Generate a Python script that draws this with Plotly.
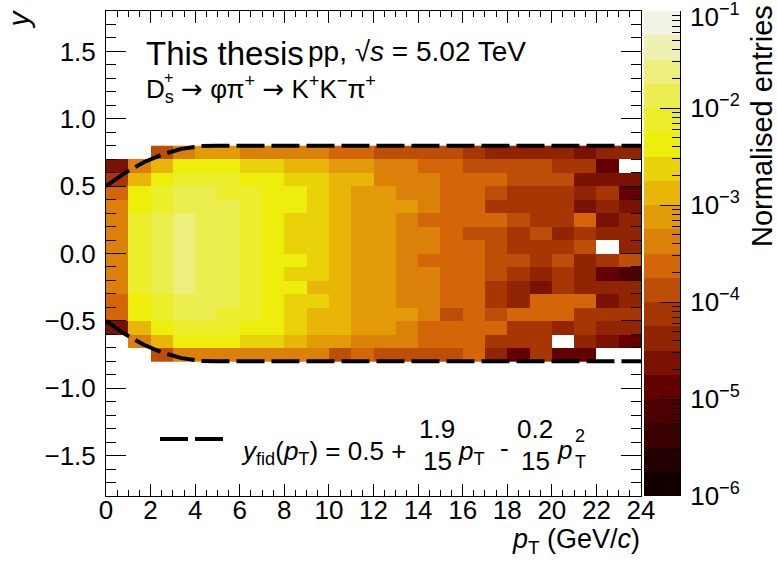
import numpy as np
import plotly.graph_objects as go

# ---------------- data ----------------
pt_edges = list(range(0, 25))  # GeV/c, 1 GeV bins
y_edges = [-0.8, -0.7, -0.6, -0.5, -0.4, -0.3, -0.2, -0.1, 0.0,
           0.1, 0.2, 0.3, 0.4, 0.5, 0.6, 0.7, 0.8]
N = None
# normalised entries per (y bin, pT bin); rows listed from top (y=+0.75) to bottom (y=-0.75)
row_p075 = [N, N, 1.3e-4, 4e-4, 8e-4, 8e-4, 4e-4, 4e-4, 4e-4, 4e-4, 2.5e-4, 2.5e-4, 1.3e-4, 1.3e-4, 1.3e-4, 1.3e-4, 8e-5, 4e-5, 4e-5, 4e-5, 4e-5, 2.5e-5, 4e-5, 4e-5]
row_p065 = [2.5e-5, 4e-4, 1.3e-3, 4e-3, 4e-3, 4e-3, 2.5e-3, 2.5e-3, 1.3e-3, 1.3e-3, 8e-4, 8e-4, 4e-4, 4e-4, 2.5e-4, 2.5e-4, 1.3e-4, 1.3e-4, 1.3e-4, 1.3e-4, 8e-5, 8e-5, 1.3e-5, N]
row_p055 = [8e-5, 1.3e-3, 4e-3, 8e-3, 8e-3, 8e-3, 4e-3, 4e-3, 2.5e-3, 2.5e-3, 1.3e-3, 1.3e-3, 4e-4, 4e-4, 4e-4, 2.5e-4, 2.5e-4, 2.5e-4, 1.3e-4, 1.3e-4, 1.3e-4, 2.5e-5, 2.5e-5, 2.5e-5]
row_p045 = [2.5e-4, 4e-3, 8e-3, 1.3e-2, 1.3e-2, 8e-3, 8e-3, 4e-3, 4e-3, 2.5e-3, 1.3e-3, 8e-4, 8e-4, 4e-4, 4e-4, 2.5e-4, 2.5e-4, 1.3e-4, 8e-5, 8e-5, 8e-5, 4e-5, 8e-5, 1.3e-5]
row_p035 = [4e-4, 4e-3, 8e-3, 1.3e-2, 1.3e-2, 1.3e-2, 8e-3, 4e-3, 4e-3, 2.5e-3, 1.3e-3, 8e-4, 8e-4, 8e-4, 4e-4, 2.5e-4, 2.5e-4, 8e-5, 8e-5, 8e-5, 8e-5, 2.5e-5, 4e-5, 2.5e-5]
row_p025 = [4e-4, 8e-3, 1.3e-2, 2.5e-2, 1.3e-2, 1.3e-2, 8e-3, 4e-3, 2.5e-3, 2.5e-3, 1.3e-3, 8e-4, 8e-4, 4e-4, 2.5e-4, 2.5e-4, 2.5e-4, 2.5e-4, 1.3e-4, 8e-5, 8e-5, 2.5e-4, 2.5e-5, 4e-5]
row_p015 = [4e-4, 8e-3, 1.3e-2, 2.5e-2, 1.3e-2, 1.3e-2, 8e-3, 4e-3, 2.5e-3, 2.5e-3, 1.3e-3, 8e-4, 8e-4, 4e-4, 4e-4, 2.5e-4, 1.3e-4, 1.3e-4, 8e-5, 1.3e-4, 4e-5, 8e-5, 4e-5, 4e-5]
row_p005 = [4e-4, 8e-3, 1.3e-2, 2.5e-2, 1.3e-2, 1.3e-2, 8e-3, 4e-3, 2.5e-3, 2.5e-3, 1.3e-3, 8e-4, 8e-4, 4e-4, 4e-4, 2.5e-4, 2.5e-4, 1.3e-4, 8e-5, 8e-5, 8e-5, 1.3e-4, N, 4e-5]
row_m005 = [4e-4, 8e-3, 1.3e-2, 2.5e-2, 1.3e-2, 1.3e-2, 8e-3, 4e-3, 4e-3, 2.5e-3, 1.3e-3, 8e-4, 8e-4, 4e-4, 2.5e-4, 2.5e-4, 2.5e-4, 1.3e-4, 1.3e-4, 8e-5, 1.3e-4, 4e-5, 8e-5, 1.3e-4]
row_m015 = [4e-4, 8e-3, 1.3e-2, 2.5e-2, 1.3e-2, 1.3e-2, 8e-3, 4e-3, 2.5e-3, 2.5e-3, 1.3e-3, 8e-4, 8e-4, 4e-4, 4e-4, 2.5e-4, 2.5e-4, 1.3e-4, 8e-5, 4e-5, 8e-5, 4e-5, 1.3e-5, 8e-6]
row_m025 = [4e-4, 8e-3, 1.3e-2, 2.5e-2, 1.3e-2, 1.3e-2, 8e-3, 4e-3, 4e-3, 1.3e-3, 1.3e-3, 8e-4, 8e-4, 4e-4, 4e-4, 2.5e-4, 2.5e-4, 8e-5, 4e-5, 2.5e-5, 8e-5, 4e-5, 4e-5, 4e-5]
row_m035 = [2.5e-4, 4e-3, 8e-3, 1.3e-2, 1.3e-2, 1.3e-2, 8e-3, 4e-3, 2.5e-3, 2.5e-3, 1.3e-3, 8e-4, 8e-4, 4e-4, 4e-4, 2.5e-4, 2.5e-4, 8e-5, 4e-5, 2.5e-4, 2.5e-4, 2.5e-4, 2.5e-5, 4e-5]
row_m045 = [2.5e-4, 4e-3, 8e-3, 1.3e-2, 1.3e-2, 8e-3, 8e-3, 4e-3, 2.5e-3, 1.3e-3, 1.3e-3, 8e-4, 8e-4, 8e-4, 4e-4, 1.3e-4, 2.5e-4, 1.3e-4, 2.5e-4, 2.5e-4, 2.5e-4, 8e-5, 8e-5, 8e-5]
row_m055 = [2.5e-5, 1.3e-3, 4e-3, 8e-3, 8e-3, 8e-3, 4e-3, 4e-3, 2.5e-3, 1.3e-3, 1.3e-3, 8e-4, 8e-4, 4e-4, 2.5e-4, 2.5e-4, 2.5e-4, 2.5e-4, 8e-5, 8e-5, 4e-5, 8e-5, 4e-5, 4e-5]
row_m065 = [N, 4e-4, 1.3e-3, 4e-3, 4e-3, 4e-3, 2.5e-3, 2.5e-3, 1.3e-3, 8e-4, 8e-4, 4e-4, 4e-4, 4e-4, 2.5e-4, 2.5e-4, 2.5e-4, 8e-5, 8e-5, 8e-5, N, 4e-5, 2.5e-5, 1.3e-5]
row_m075 = [N, N, 1.3e-4, 4e-4, 4e-4, 4e-4, 4e-4, 4e-4, 4e-4, 4e-4, 1.3e-4, 2.5e-4, 1.3e-4, 1.3e-4, 1.3e-4, 1.3e-4, 2.5e-4, 4e-5, 1.3e-5, 8e-5, 1.3e-5, 1.3e-5, N, N]

rows_top_to_bottom = [row_p075, row_p065, row_p055, row_p045, row_p035, row_p025, row_p015, row_p005,
                      row_m005, row_m015, row_m025, row_m035, row_m045, row_m055, row_m065, row_m075]

# fiducial acceptance curve shown in the legend: y_fid = 0.5 + 1.9/15 pT - 0.2/15 pT^2 (pT<5), 0.8 above
fid_a, fid_b, fid_c, fid_pt_max, fid_y_max = 0.5, 1.9 / 15, 0.2 / 15, 5.0, 0.8

z_min_log, z_max_log, n_levels = -6, -1, 20
cbar_ticks = [-6, -5, -4, -3, -2, -1]

# ---------------- palette (ROOT kDarkBodyRadiator, 20 contours) ----------------
st = np.linspace(0, 1, 9)
pr = [0, 45, 99, 156, 212, 230, 237, 234, 242]
pg = [0, 0, 0, 45, 101, 168, 238, 238, 243]
pb = [0, 1, 1, 3, 9, 8, 11, 95, 230]
band_cols = []
for k in range(n_levels):
    idx = int((k + 0.99) * 255 / n_levels)
    f = min(idx, 254) / 254
    band_cols.append("rgb(%d,%d,%d)" % (round(np.interp(f, st, pr)), round(np.interp(f, st, pg)),
                                        round(np.interp(f, st, pb))))
cscale = []
for k, c in enumerate(band_cols):
    cscale.append([k / n_levels, c])
    cscale.append([(k + 1) / n_levels, c])

rows_bottom_to_top = rows_top_to_bottom[::-1]
logz = [[np.nan if v is None else np.log10(v) for v in r] for r in rows_bottom_to_top]

# ---------------- geometry ----------------
W, H = 777, 565
ML, MR, MT, MB = 106, 97, 11, 69
PW = W - ML - MR
PH = H - MT - MB
def px(x):
    return (x - ML) / PW
def py(y):
    return (H - MB - y) / PH

FONT = "Liberation Sans, Arial, Helvetica, sans-serif"
ARROW = '<span style="font-family:DejaVu Sans">\u2192</span>'

fig = go.Figure()
fig.add_trace(go.Heatmap(x=pt_edges, y=y_edges, z=logz, zmin=z_min_log, zmax=z_max_log,
                         colorscale=cscale, showscale=False, hoverinfo="skip",
                         xaxis="x", yaxis="y"))

# colour scale bar drawn as its own heatmap
band_edges = np.linspace(z_min_log, z_max_log, n_levels + 1)
band_mid = (band_edges[:-1] + band_edges[1:]) / 2
fig.add_trace(go.Heatmap(x=[0, 1], y=band_edges, z=[[v] for v in band_mid], zmin=z_min_log,
                         zmax=z_max_log, colorscale=cscale, showscale=False, hoverinfo="skip",
                         xaxis="x2", yaxis="y2"))

# fiducial curve
pt = np.linspace(0, 24, 481)
yf = np.where(pt < fid_pt_max, fid_a + fid_b * pt - fid_c * pt ** 2, fid_y_max)
for sgn in (1, -1):
    fig.add_trace(go.Scatter(x=pt, y=sgn * yf, mode="lines",
                             line=dict(color="black", width=4, dash="28px,7px"),
                             hoverinfo="skip", showlegend=False, xaxis="x", yaxis="y"))

TICKFONT = dict(family=FONT, size=26, color="black")
xdom_end = 535 / PW
ax_common = dict(showline=True, linecolor="black", linewidth=1, showgrid=False, zeroline=False,
                 ticks="inside", tickcolor="black", tickfont=TICKFONT)
fig.update_layout(
    width=W, height=H, margin=dict(l=ML, r=MR, t=MT, b=MB),
    paper_bgcolor="white", plot_bgcolor="white", showlegend=False,
    xaxis=dict(domain=[0, xdom_end], range=[0, 24], dtick=2, tick0=0, ticklen=12, mirror="ticks",
               minor=dict(dtick=0.5, ticklen=6, ticks="inside", tickcolor="black"),
               ticklabelstandoff=-9, **ax_common),
    yaxis=dict(range=[-1.8, 1.8], dtick=0.5, tick0=0, ticklen=20, tickformat=".1f", mirror="ticks",
               minor=dict(dtick=0.1, ticklen=10, ticks="inside", tickcolor="black"),
               ticklabelstandoff=4, **ax_common),
    xaxis2=dict(domain=[538 / PW, 1], range=[0, 1], visible=False, anchor="y2"),
    yaxis2=dict(domain=[0, 1], range=[z_min_log, z_max_log], anchor="x2", side="right",
                showline=True, linecolor="black", linewidth=1, showgrid=False, zeroline=False,
                ticks="inside", ticklen=20, tickcolor="black",
                tickvals=cbar_ticks,
                ticktext=["" if t == z_max_log else "10<sup>\u2212%d</sup>" % (-t) for t in cbar_ticks],
                tickfont=TICKFONT, ticklabelstandoff=4,
                minor=dict(tickmode="array", ticks="inside", ticklen=8, tickcolor="black",
                           tickvals=[float(np.log10(m * 10.0 ** e)) for e in range(-6, -1) for m in range(2, 10)])),
)

ann = []
def add_text(text, x, y, size, xanchor="left", yanchor="middle", angle=0):
    ann.append(dict(text=text, x=px(x), y=py(y), xref="paper", yref="paper", showarrow=False,
                    xanchor=xanchor, yanchor=yanchor, textangle=angle,
                    font=dict(family=FONT, size=size, color="black")))

add_text("This thesis", 144, 53, 33)
add_text("pp, \u221a<i>s</i> = 5.02 TeV", 306, 51, 28)
add_text("D<sub>s</sub> " + ARROW + " \u03c6\u03c0<sup>+</sup> " + ARROW +
         " K<sup>+</sup>K<sup>\u2212</sup>\u03c0<sup>+</sup>", 144, 89, 26)
add_text("+", 162, 78, 16)
# legend formula
add_text("<i>y</i><sub>fid</sub>(<i>p</i><sub>T</sub>) = 0.5 +", 239, 452, 26)
add_text("1.9", 437, 429, 26, xanchor="center")
add_text("15", 437, 461, 26, xanchor="center")
add_text("<i>p</i><sub>T</sub>", 456, 452, 26)
add_text("-", 498, 448, 26)
add_text("0.2", 535, 429, 26, xanchor="center")
add_text("15", 535, 461, 26, xanchor="center")
add_text("<i>p</i>", 555, 450, 26)
add_text("2", 573, 436, 18)
add_text("T", 573, 462, 18)
# colour axis top label
add_text("10<sup>\u22121</sup>", 688, 16, 26)
# axis titles
add_text("<i>p</i><sub>T</sub> (GeV/<i>c</i>)", 642, 541, 27, xanchor="right")
add_text("<i>y</i>", 18, 8, 30, xanchor="center", yanchor="top", angle=-90)
add_text("Normalised entries", 762, 3, 29, xanchor="center", yanchor="top", angle=-90)
fig.update_layout(annotations=ann)

fig.add_shape(type="line", xref="paper", yref="paper", x0=px(160), x1=px(223), y0=py(439), y1=py(439),
              line=dict(color="black", width=4, dash="28px,7px"))

fig.write_html("out.html")
